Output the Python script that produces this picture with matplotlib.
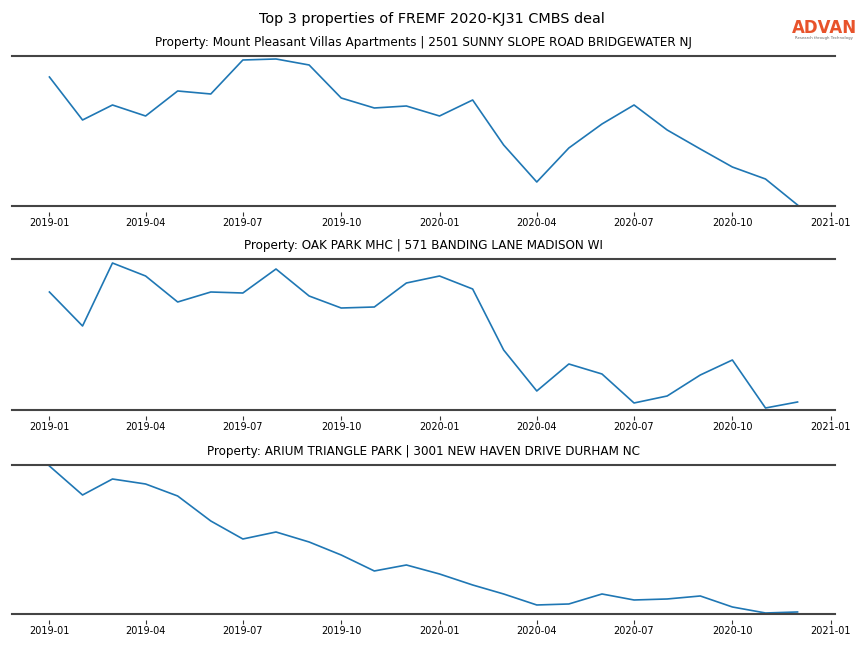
import matplotlib
matplotlib.use("Agg")
import matplotlib.pyplot as plt
import pandas as pd

months = pd.date_range("2019-01-01", "2020-12-01", freq="MS")

titles = [
    "Property: Mount Pleasant Villas Apartments | 2501 SUNNY SLOPE ROAD BRIDGEWATER NJ",
    "Property: OAK PARK MHC | 571 BANDING LANE MADISON WI",
    "Property: ARIUM TRIANGLE PARK | 3001 NEW HAVEN DRIVE DURHAM NC",
]

visits_mount_pleasant = [129, 86, 101, 90, 115, 112, 146, 147, 141, 108, 98, 100,
                         90, 106, 61, 24, 58, 82, 101, 76, 57, 39, 27, 1]
visits_oak_park = [118, 84, 147, 134, 108, 118, 117, 141, 114, 102, 103, 127,
                   134, 121, 60, 19, 46, 36, 7, 14, 35, 50, 2, 8]
visits_arium = [148, 119, 135, 130, 118, 93, 75, 82, 72, 59, 43, 49,
                40, 29, 20, 9, 10, 20, 14, 15, 18, 7, 1, 2]
series = [visits_mount_pleasant, visits_oak_park, visits_arium]
ylims = [(0, 150), (0, 151), (0, 149)]

fig = plt.figure(figsize=(8.64, 6.48), dpi=100)
rects = [
    (0.0139, 0.6821, 0.9525, 0.2315),
    (0.0139, 0.3673, 0.9525, 0.2330),
    (0.0139, 0.0525, 0.9525, 0.2299),
]
for rect, vals, title, yl in zip(rects, series, titles, ylims):
    ax = fig.add_axes(rect)
    ax.plot(months, vals, color="#1f77b4", lw=1.2)
    ax.set_ylim(*yl)
    ax.set_title(title, fontsize=8.65, pad=7.5)
    ax.set_yticks([])
    for s in ("left", "right"):
        ax.spines[s].set_visible(False)
    ax.spines["top"].set_color("#444444")
    ax.spines["top"].set_linewidth(1.5)
    ax.spines["bottom"].set_position(("outward", 4))
    ax.spines["bottom"].set_visible(False)
    ax.axhline(yl[0], color="#444444", lw=1.5, clip_on=False)
    ax.xaxis.set_major_formatter(matplotlib.dates.DateFormatter("%Y-%m"))
    ax.xaxis.set_major_locator(matplotlib.dates.MonthLocator(bymonth=[1, 4, 7, 10]))
    ax.tick_params(axis="x", labelsize=7, length=3, width=0.8, color="#333333", pad=2)

fig.text(0.5, 0.971, "Top 3 properties of FREMF 2020-KJ31 CMBS deal",
         ha="center", va="center", fontsize=10.4)
fig.text(0.954, 0.957, "ADVAN", ha="center", va="center", fontsize=12,
         fontweight="bold", color="#E8532B")
fig.text(0.954, 0.941, "Research through Technology", ha="center", va="center",
         fontsize=2.8, color="#666666")

fig.savefig("out.png", dpi=100)
